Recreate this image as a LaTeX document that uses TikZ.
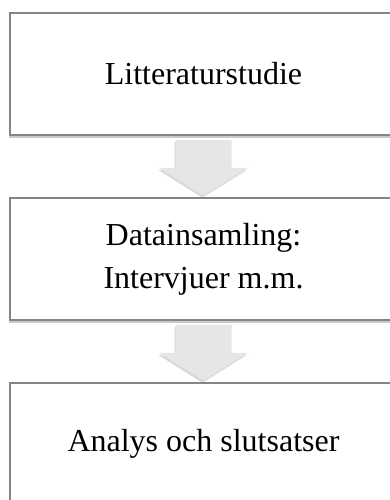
\documentclass[tikz,border=0pt]{standalone}
\usepackage{fontspec}
\setmainfont{Liberation Serif}
\usetikzlibrary{calc,shadows}
\definecolor{boxline}{HTML}{858585}
\definecolor{arrowfill}{HTML}{E6E6E6}
\begin{document}
\begin{tikzpicture}[x=1pt,y=-1pt,
  stepbox/.style={draw=boxline, line width=1.5pt, fill=white,
    minimum width=387pt, minimum height=122pt, inner sep=0pt,
    align=center, font=\fontsize{32}{43}\selectfont,
    drop shadow={shadow xshift=-1.5pt, shadow yshift=-2.5pt, opacity=0.35, fill=black!60}},
  blockarrow/.style={fill=arrowfill, draw=none,
    drop shadow={shadow xshift=-1pt, shadow yshift=-2pt, opacity=0.25, fill=black!60}}]
\useasboundingbox (0,0) rectangle (390,500);
\clip (0,0) rectangle (390,500);
\fill[white] (0,0) rectangle (390,500);
\node[stepbox] (b1) at (203.5,74) {Litteraturstudie};
\node[stepbox] (b2) at (203.5,259) {Datainsamling:\\Intervjuer m.m.};
\node[stepbox] (b3) at (203.5,444) {Analys och slutsatser};
\foreach \a/\b in {b1/b2, b2/b3}{
  \coordinate (t) at ($(\a.south)+(0,4)$);
  \path[blockarrow] ($(t)+(-28,0)$) -- ++(56,0) -- ++(0,28) -- ++(16.5,0)
     -- ($(t)+(0,56)$) -- ($(t)+(-44.5,28)$) -- ++(16.5,0) -- cycle;
}
\end{tikzpicture}
\end{document}
